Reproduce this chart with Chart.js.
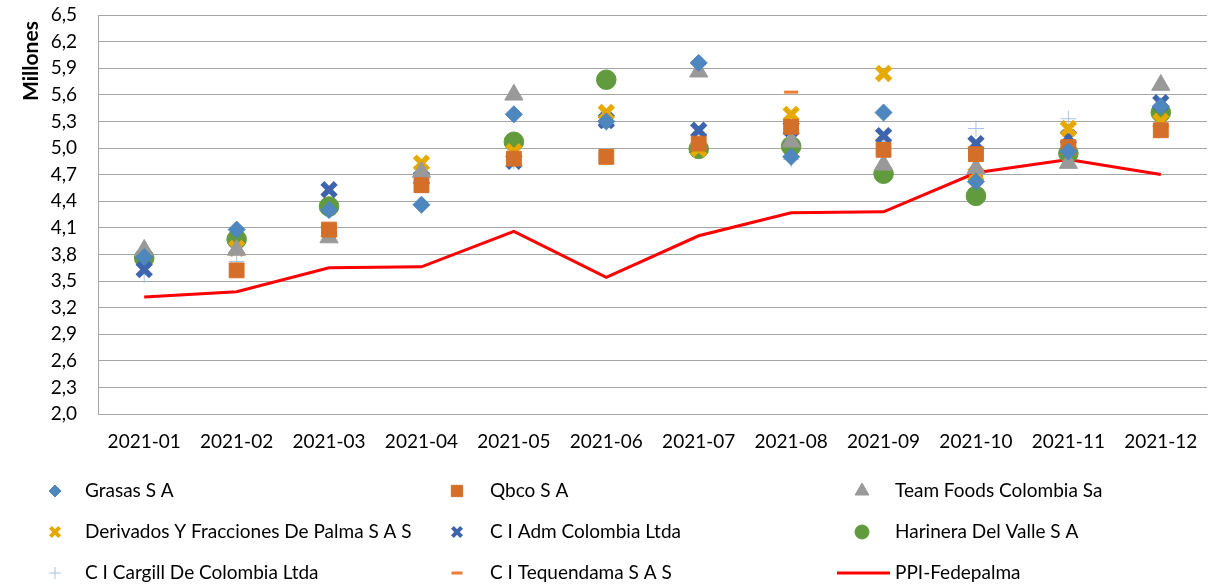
<!DOCTYPE html>
<html>
<head>
<meta charset="utf-8">
<script src="https://cdn.jsdelivr.net/npm/chart.js@4/dist/chart.umd.min.js"></script>
<style>
html,body{margin:0;padding:0;background:#fff;}
#wrap{width:1222px;height:585px;position:relative;}
</style>
</head>
<body>
<div id="wrap"><canvas id="c" width="1222" height="585"></canvas></div>
<script>
const categories = ['2021-01','2021-02','2021-03','2021-04','2021-05','2021-06','2021-07','2021-08','2021-09','2021-10','2021-11','2021-12'];
const grasas     = [3.77, 4.08, 4.30, 4.36, 5.38, 5.30, 5.96, 4.90, 5.40, 4.62, 4.96, 5.47];
const qbco       = [null, 3.62, 4.08, 4.58, 4.88, 4.90, 5.05, 5.24, 4.98, 4.93, 5.01, 5.20];
const teamFoods  = [3.85, 3.85, 3.99, 4.73, 5.60, null, 5.86, 5.07, 4.81, 4.77, 4.83, 5.71];
const derivados  = [null, 3.87, 4.06, 4.83, 4.96, 5.40, 4.99, 5.38, 5.84, 4.70, 5.22, 5.30];
const ciAdm      = [3.63, 3.87, 4.53, 4.66, 4.85, 5.31, 5.20, 5.22, 5.14, 5.05, 5.12, 5.51];
const harinera   = [3.76, 3.97, 4.34, null, 5.07, 5.77, 4.99, 5.02, 4.71, 4.46, 4.94, 5.40];
const cargill    = [3.57, 3.72, 4.05, 4.64, 4.85, 5.28, null, 4.87, 5.07, 5.22, 5.33, null];
const tequendama = [null, null, null, null, 4.85, 5.25, null, 5.63, null, 4.68, 5.05, 5.43];
const ppi        = [3.32, 3.38, 3.65, 3.66, 4.06, 3.54, 4.01, 4.27, 4.28, 4.72, 4.87, 4.70];
const yTickLabels = ['2,0','2,3','2,6','2,9','3,2','3,5','3,8','4,1','4,4','4,7','5,0','5,3','5,6','5,9','6,2','6,5'];
const yTitle = 'Millones';
const seriesNames = ['Grasas S A','Qbco S A','Team Foods Colombia Sa','Derivados Y Fracciones De Palma S A S','C I Adm Colombia Ltda','Harinera Del Valle S A','C I Cargill De Colombia Ltda','C I Tequendama S A S','PPI-Fedepalma'];

const FONT = 'Lato';

function sc(label, data, style, color, radius, bw, filled, legR){
  return {type:'scatter', label, data, showLine:false, pointStyle:style,
    pointRadius:radius, pointHoverRadius:radius, pointBorderWidth:bw,
    pointBackgroundColor: filled ? color : 'rgba(0,0,0,0)', pointBorderColor:color,
    backgroundColor: color, borderColor: color, legR};
}

const datasets = [
  sc(seriesNames[0], grasas, 'rectRot', '#4E86BE', 8.5, 1, true, 6),
  sc(seriesNames[1], qbco, 'rect', '#D46F2A', 10.5, 1, true, 8),
  sc(seriesNames[2], teamFoods, 'triangle', '#999999', 10.5, 1, true, 8),
  sc(seriesNames[3], derivados, 'crossRot', '#E6A900', 9.5, 5.5, false, 6.5),
  sc(seriesNames[4], ciAdm, 'crossRot', '#3E64AE', 9.5, 5.5, false, 6.5),
  sc(seriesNames[5], harinera, 'circle', '#629A3E', 9.8, 1, true, 7),
  sc(seriesNames[6], cargill, 'cross', '#A8C3E6', 8, 1, false, 6),
  sc(seriesNames[7], tequendama, 'line', '#ED7D31', 7, 3, false, 5.5),
  {type:'line', label:seriesNames[8], data:ppi, borderColor:'#FF0000', backgroundColor:'#FF0000', borderWidth:3, pointRadius:0, pointHoverRadius:0, tension:0, fill:false}
];

const legendPlugin = {
  id:'customLegend',
  afterDraw(chart){
    const ctx = chart.ctx;
    const cols = [[55,85],[457,490],[862,895]];
    const rows = [491,532,573];
    ctx.save();
    // y-axis title
    ctx.save();
    ctx.translate(31, 61);
    ctx.rotate(-Math.PI/2);
    ctx.font = 'bold 21px ' + FONT;
    ctx.textAlign = 'center';
    ctx.textBaseline = 'middle';
    ctx.fillStyle = '#000';
    ctx.fillText(yTitle, 0, 0);
    ctx.restore();
    ctx.font = '19px ' + FONT;
    ctx.textBaseline = 'middle';
    chart.data.datasets.forEach((ds, i) => {
      const r = Math.floor(i/3), c = i%3;
      const x = cols[c][0], y = rows[r], tx = cols[c][1];
      if (ds.type === 'line') {
        ctx.strokeStyle = ds.borderColor; ctx.lineWidth = 3;
        ctx.beginPath(); ctx.moveTo(837, y); ctx.lineTo(890, y); ctx.stroke();
      } else {
        ctx.fillStyle = ds.pointBackgroundColor;
        ctx.strokeStyle = ds.pointBorderColor;
        ctx.lineWidth = ds.pointStyle === 'crossRot' ? 4 : ds.pointBorderWidth;
        Chart.helpers.drawPoint(ctx, {pointStyle: ds.pointStyle, radius: ds.legR, rotation:0, borderWidth: ctx.lineWidth}, x, y);
      }
      ctx.fillStyle = '#000';
      ctx.fillText(ds.label, tx, y);
    });
    ctx.restore();
  }
};

new Chart(document.getElementById('c'), {
  data:{labels:categories, datasets},
  options:{
    responsive:false, animation:false,
    layout:{padding:{top:15, right:11, bottom:126, left:0}},
    plugins:{legend:{display:false}, tooltip:{enabled:false}},
    scales:{
      x:{type:'category', offset:true,
        grid:{display:false, drawTicks:false},
        border:{display:true, color:'#A6A6A6', width:1},
        ticks:{color:'#000', font:{family:FONT, size:19}, padding:16, maxRotation:0, autoSkip:false},
        afterFit(s){ s.height = 45; s.paddingLeft = 0; s.paddingRight = 0; }
      },
      y:{type:'linear', min:2, max:6.5,
        grid:{color:'#A6A6A6', lineWidth:1, drawTicks:false},
        border:{display:true, color:'#A6A6A6', width:1},
        ticks:{stepSize:0.3, autoSkip:false, color:'#000', font:{family:FONT, size:19}, padding:21,
          callback:(v, i) => yTickLabels[i]},
        title:{display:false},
        afterFit(s){ s.width = 98; s.paddingTop = 0; s.paddingBottom = 0; }
      }
    }
  },
  plugins:[legendPlugin]
});
</script>
</body>
</html>
